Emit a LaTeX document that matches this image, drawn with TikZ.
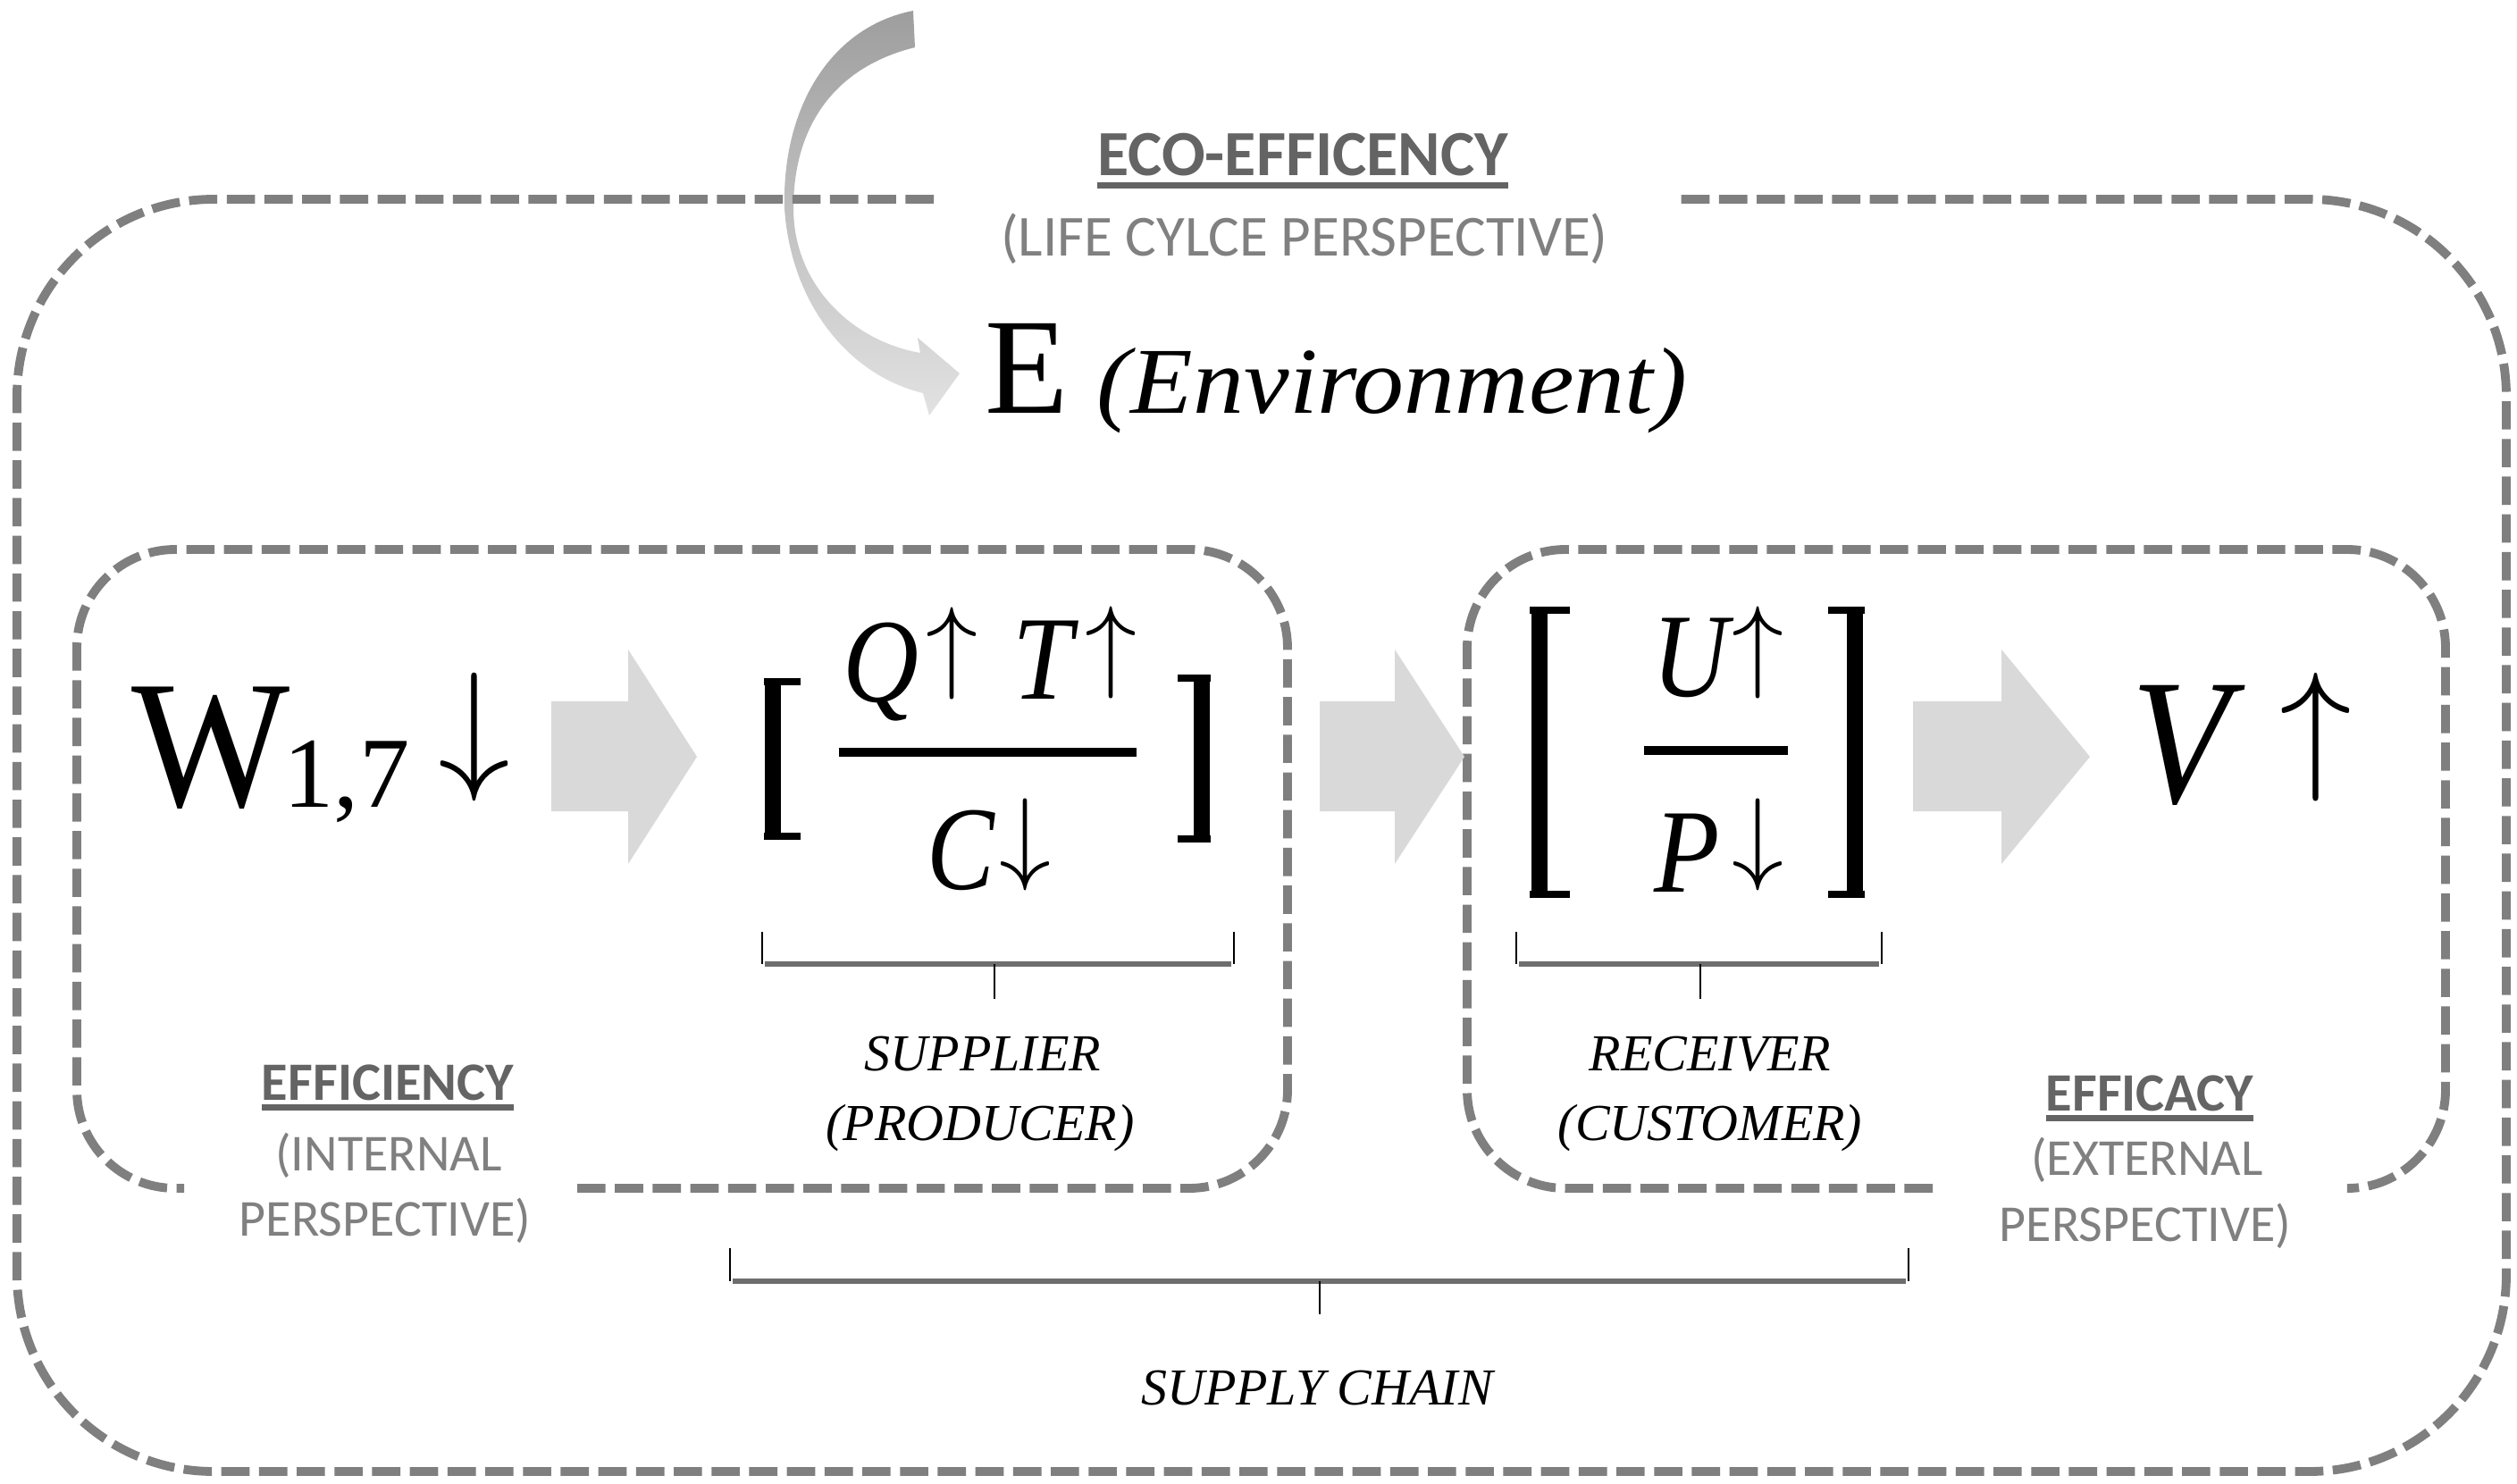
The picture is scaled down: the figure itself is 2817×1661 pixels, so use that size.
\documentclass[tikz,border=0pt]{standalone}
\usepackage{fontspec}
\setmainfont{Liberation Serif}
\newfontfamily\calib{Carlito}
\definecolor{dashgray}{RGB}{127,127,127}
\definecolor{blockgray}{RGB}{217,217,217}
\definecolor{headgray}{RGB}{100,100,100}
\definecolor{subgray}{RGB}{128,128,128}
\definecolor{bracegray}{RGB}{110,110,110}
\definecolor{curvetop}{RGB}{158,158,158}
\definecolor{curvebot}{RGB}{226,226,226}
\begin{document}
\begin{tikzpicture}[x=0.01cm,y=-0.01cm,
  boxline/.style={draw=dashgray,line width=2.8pt,dash pattern=on 9pt off 3pt},
  blockarrow/.style={fill=blockgray,draw=none},
  txt/.style={inner sep=0pt,outer sep=0pt,anchor=base},
  headlbl/.style={txt,text=headgray,font=\calib\bfseries\fontsize{17.2pt}{20pt}\selectfont},
  sublbl/.style={txt,text=subgray,font=\calib\fontsize{16.5pt}{20pt}\selectfont},
  itlbl/.style={txt,font=\itshape\fontsize{16.5pt}{20pt}\selectfont},
  ul/.style={draw=headgray,line width=2pt},
  mathlet/.style={txt,font=\itshape\fontsize{38pt}{40pt}\selectfont},
  arr/.style={inner sep=0pt,outer sep=0pt,anchor=center},
  bracebar/.style={draw=bracegray,line width=1.6pt},
  bracetick/.style={draw=black,line width=0.6pt},
  brk/.style={draw=black,line width=5pt},
  brkserif/.style={draw=black,line width=2.2pt},
  fracbar/.style={draw=black,line width=2.8pt}
]
\useasboundingbox (0,0) rectangle (2817,1661);
\fill[white] (0,0) rectangle (2817,1661);

% curved gray arrow
\shade[top color=curvetop,bottom color=curvebot]
  (1022,12) .. controls (930,30) and (875,120) .. (878,233)
  .. controls (885,340) and (950,420) .. (1033,440)
  -- (1040,465) -- (1074,418) -- (1027,378) -- (1030,395)
  .. controls (955,382) and (888,320) .. (888,233)
  .. controls (888,140) and (935,75) .. (1024,53) -- cycle;

% outer dashed box (gap at top for the title)
\draw[boxline,rounded corners=2.2cm] (1045,223) -- (19,223) -- (19,1647) -- (2805,1647) -- (2805,223) -- (1880,223);
% inner boxes
\draw[boxline,rounded corners=1.1cm] (646,1330) -- (1441,1330) -- (1441,615) -- (86,615) -- (86,1330) -- (206,1330);
\draw[boxline,rounded corners=1.1cm] (2163,1330) -- (1642,1330) -- (1642,615) -- (2737,615) -- (2737,1330) -- (2627,1330);

% block arrows
\fill[blockarrow] (617,785) -- (703,785) -- (703,727) -- (780,847) -- (703,967) -- (703,908) -- (617,908) -- cycle;
\fill[blockarrow] (1477,785) -- (1561,785) -- (1561,727) -- (1639,847) -- (1561,967) -- (1561,908) -- (1477,908) -- cycle;
\fill[blockarrow] (2141,785) -- (2240,785) -- (2240,727) -- (2339,847) -- (2240,967) -- (2240,908) -- (2141,908) -- cycle;

% titles
\node[headlbl,font=\calib\bfseries\fontsize{20.5pt}{24pt}\selectfont] (eco) at (1458,197) {ECO-EFFICENCY};
\draw[ul] ([yshift=-2.9pt]eco.base west) -- ([yshift=-2.9pt]eco.base east);
\node[sublbl,font=\calib\fontsize{18.5pt}{22pt}\selectfont] (lcp) at (1460,287) {(LIFE CYLCE PERSPECTIVE)};

\node[txt,font=\fontsize{43.5pt}{46pt}\selectfont] (envE) at (1149,463) {E};
\node[txt,font=\itshape\fontsize{30pt}{32pt}\selectfont] (envT) at (1558,463) {\scalebox{1.08}[1]{(Environment)}};

% W
\node[txt,font=\fontsize{58pt}{60pt}\selectfont] (W) at (236,902) {\scalebox{0.92}[1]{W}};
\node[txt,font=\fontsize{32pt}{34pt}\selectfont] (Wsub) at (388,903) {1,7};
\node[arr] (Wdn) at (531,825) {\scalebox{4.6}{$\downarrow$}};

% supplier fraction
\draw[brk] (865,762) -- (865,937);
\draw[brkserif] (855,763) -- (896,763) (855,936) -- (896,936);
\draw[brk] (1345,758) -- (1345,940);
\draw[brkserif] (1318,759) -- (1355,759) (1318,939) -- (1355,939);
\draw[fracbar] (939,842) -- (1272,842);
\node[mathlet] (Q) at (986,785) {\scalebox{0.88}[1]{Q}};
\node[arr] (Qup) at (1066,731) {\scalebox{3.3}{$\uparrow$}};
\node[mathlet] (T) at (1167,782) {\scalebox{0.9}[1]{T}};
\node[arr] (Tup) at (1243,730) {\scalebox{3.3}{$\uparrow$}};
\node[mathlet] (C) at (1075,995) {\scalebox{0.85}[1]{C}};
\node[arr] (Cdn) at (1148,945) {\scalebox{3.3}{$\downarrow$}};

% receiver fraction
\draw[brk] (1723,682) -- (1723,1002);
\draw[brkserif] (1712,683) -- (1757,683) (1712,1001) -- (1757,1001);
\draw[brk] (2076,682) -- (2076,1002);
\draw[brkserif] (2046,683) -- (2087,683) (2046,1001) -- (2087,1001);
\draw[fracbar] (1840,840) -- (2001,840);
\node[mathlet] (U) at (1892,780) {\scalebox{0.88}[1]{U}};
\node[arr] (Uup) at (1967,730) {\scalebox{3.3}{$\uparrow$}};
\node[mathlet] (P) at (1888,998) {\scalebox{0.9}[1]{P}};
\node[arr] (Pdn) at (1967,945) {\scalebox{3.3}{$\downarrow$}};

% V
\node[txt,font=\itshape\fontsize{57pt}{60pt}\selectfont] (V) at (2441,898) {\scalebox{0.9}[1]{V}};
\node[arr] (Vup) at (2592,825) {\scalebox{4.6}{$\uparrow$}};

% braces
\draw[bracebar] (856,1079) -- (1378,1079);
\draw[bracetick] (853,1043) -- (853,1079) (1381,1043) -- (1381,1079) (1113,1079) -- (1113,1118);
\draw[bracebar] (1700,1079) -- (2103,1079);
\draw[bracetick] (1697,1043) -- (1697,1079) (2106,1043) -- (2106,1079) (1903,1079) -- (1903,1118);
\draw[bracebar] (820,1434) -- (2133,1434);
\draw[bracetick] (817,1397) -- (817,1434) (2136,1397) -- (2136,1434) (1477,1434) -- (1477,1471);

% labels
\node[itlbl] (sup) at (1100,1198) {SUPPLIER};
\node[itlbl] (prod) at (1097,1276) {(PRODUCER)};
\node[itlbl] (rec) at (1914,1198) {RECEIVER};
\node[itlbl] (cust) at (1914,1276) {(CUSTOMER)};
\node[itlbl] (sc) at (1474,1572) {SUPPLY CHAIN};

\node[headlbl] (eff) at (434,1231) {EFFICIENCY};
\draw[ul,line width=1.8pt] ([yshift=-2.4pt]eff.base west) -- ([yshift=-2.4pt]eff.base east);
\node[sublbl] (int1) at (435,1310) {(INTERNAL};
\node[sublbl] (int2) at (431,1383) {PERSPECTIVE)};

\node[headlbl] (efc) at (2406,1243) {EFFICACY};
\draw[ul,line width=1.8pt] ([yshift=-2.4pt]efc.base west) -- ([yshift=-2.4pt]efc.base east);
\node[sublbl] (ext1) at (2403,1315) {(EXTERNAL};
\node[sublbl] (ext2) at (2401,1389) {PERSPECTIVE)};
\end{tikzpicture}
\end{document}
